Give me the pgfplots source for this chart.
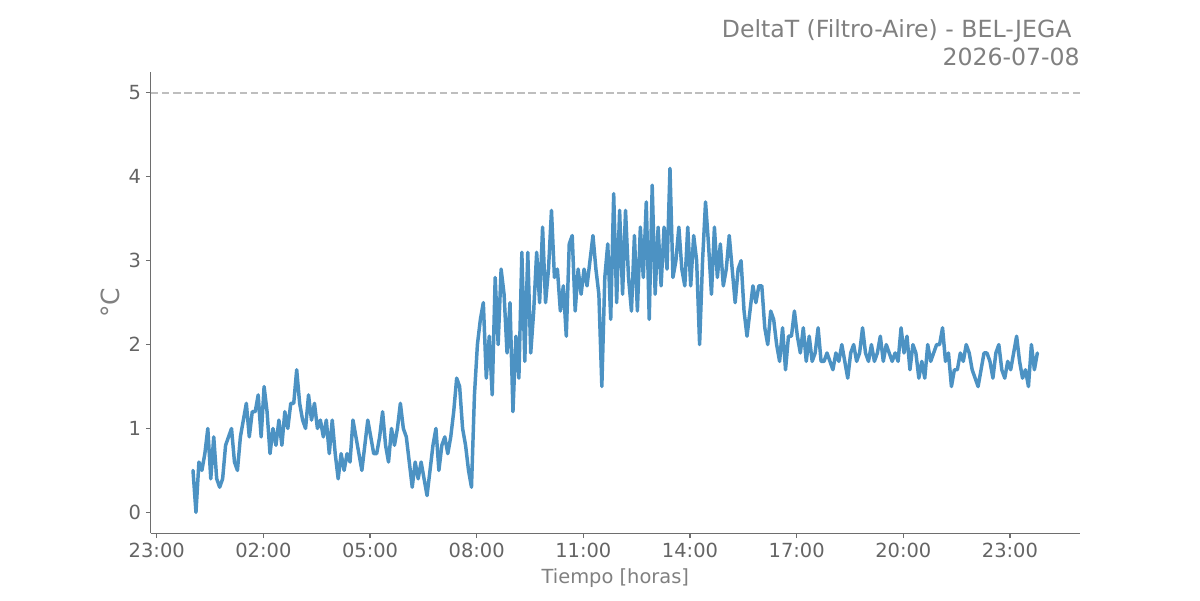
\documentclass[border=0pt]{standalone}
\usepackage{pgfplots}
\usepackage{pgfplotstable}
\usepackage{fontspec}
\setmainfont{DejaVu Sans}
\pgfplotsset{compat=1.18}

\definecolor{linecol}{RGB}{76,146,195}
\definecolor{spinegray}{RGB}{110,110,110}
\definecolor{tickgray}{RGB}{100,100,100}
\definecolor{labgray}{RGB}{128,128,128}
\definecolor{refgray}{RGB}{190,190,190}

% DeltaT every 5 minutes, first sample at 00:01 (t in hours since 23:00), one hour per line
\pgfplotstableread[row sep=\\]{
v\\
0.5\\0.0\\0.6\\0.5\\0.7\\1.0\\0.4\\0.9\\0.4\\0.3\\0.4\\0.8\\
0.9\\1.0\\0.6\\0.5\\0.9\\1.1\\1.3\\0.9\\1.2\\1.2\\1.4\\0.9\\
1.5\\1.2\\0.7\\1.0\\0.8\\1.1\\0.8\\1.2\\1.0\\1.3\\1.3\\1.7\\
1.3\\1.1\\1.0\\1.4\\1.1\\1.3\\1.0\\1.1\\0.9\\1.1\\0.7\\1.1\\
0.7\\0.4\\0.7\\0.5\\0.7\\0.6\\1.1\\0.9\\0.7\\0.5\\0.8\\1.1\\
0.9\\0.7\\0.7\\0.9\\1.2\\0.8\\0.6\\1.0\\0.8\\1.0\\1.3\\1.0\\
0.9\\0.6\\0.3\\0.6\\0.4\\0.6\\0.4\\0.2\\0.5\\0.8\\1.0\\0.5\\
0.8\\0.9\\0.7\\0.9\\1.2\\1.6\\1.5\\1.0\\0.8\\0.5\\0.3\\1.4\\
2.0\\2.3\\2.5\\1.6\\2.1\\1.4\\2.8\\2.0\\2.9\\2.6\\1.9\\2.5\\
1.2\\2.1\\1.6\\3.1\\1.8\\3.1\\1.9\\2.4\\3.1\\2.5\\3.4\\2.5\\
2.9\\3.6\\2.8\\2.9\\2.4\\2.7\\2.1\\3.2\\3.3\\2.4\\2.9\\2.6\\
2.9\\2.7\\3.0\\3.3\\2.9\\2.6\\1.5\\2.8\\3.2\\2.3\\3.8\\2.5\\
3.6\\2.6\\3.6\\2.8\\2.4\\3.3\\2.4\\3.4\\2.8\\3.7\\2.3\\3.9\\
2.6\\3.4\\2.7\\3.4\\2.9\\4.1\\2.8\\3.0\\3.4\\2.9\\2.7\\3.4\\
2.7\\3.3\\3.0\\2.0\\3.0\\3.7\\3.2\\2.6\\3.4\\2.8\\3.2\\2.7\\
2.9\\3.3\\2.9\\2.5\\2.9\\3.0\\2.4\\2.1\\2.4\\2.7\\2.5\\2.7\\
2.7\\2.2\\2.0\\2.4\\2.3\\2.0\\1.8\\2.2\\1.7\\2.1\\2.1\\2.4\\
2.1\\1.9\\2.2\\1.8\\2.1\\1.8\\1.9\\2.2\\1.8\\1.8\\1.9\\1.8\\
1.7\\1.9\\1.8\\2.0\\1.8\\1.6\\1.9\\2.0\\1.8\\1.9\\2.2\\1.9\\
1.8\\2.0\\1.8\\1.9\\2.1\\1.8\\2.0\\1.9\\1.8\\1.9\\1.8\\2.2\\
1.9\\2.1\\1.7\\2.0\\1.9\\1.6\\1.8\\1.6\\2.0\\1.8\\1.9\\2.0\\
2.0\\2.2\\1.8\\1.9\\1.5\\1.7\\1.7\\1.9\\1.8\\2.0\\1.9\\1.7\\
1.6\\1.5\\1.7\\1.9\\1.9\\1.8\\1.6\\1.9\\2.0\\1.7\\1.6\\1.8\\
1.7\\1.9\\2.1\\1.8\\1.6\\1.7\\1.5\\2.0\\1.7\\1.9\\
}\deltat

\begin{document}
\begin{tikzpicture}
\path[use as bounding box] (-108.5pt,-48pt) rectangle (755.5pt,384pt);
\begin{axis}[
    at={(0pt,0pt)}, anchor=south west,
    scale only axis,
    width=669.1pt, height=332.2pt,
    xmin=-0.17, xmax=25.97,
    ymin=-0.25, ymax=5.25,
    axis x line*=bottom, axis y line*=left,
    axis line style={draw=spinegray, line width=0.8pt, -},
    tick align=outside,
    major tick length=3.5pt,
    tick style={draw=spinegray, line width=0.8pt},
    xtick={0,3,...,24},
    xticklabels={23:00,02:00,05:00,08:00,11:00,14:00,17:00,20:00,23:00},
    ytick={0,1,2,3,4,5},
    /pgf/number format/assume math mode=true,
    tick label style={font=\fontsize{14}{16}\selectfont, text=tickgray},
    xlabel={Tiempo [horas]},
    ylabel={°C},
    xlabel style={font=\fontsize{14}{16}\selectfont, text=labgray, yshift=-1pt},
    ylabel style={font=\fontsize{18}{20}\selectfont, text=labgray, yshift=-0.5pt},
    clip=false,
]
\addplot[refgray, line width=1.2pt, dash pattern=on 5.5pt off 2.5pt]
    coordinates {(-0.17,5) (25.97,5)};
\addplot[linecol, line width=2.5pt, line join=round, line cap=round]
    table[x expr=1.02+\coordindex/12, y=v] {\deltat};
\node[anchor=south east, align=right, text=labgray,
      font=\fontsize{17}{20.4}\selectfont, inner sep=0pt]
    at (rel axis cs:1,1) [yshift=4pt]
    {DeltaT (Filtro-Aire) - BEL-JEGA\hspace*{0.35em}\\2026-07-08};
\end{axis}
\end{tikzpicture}
\end{document}
